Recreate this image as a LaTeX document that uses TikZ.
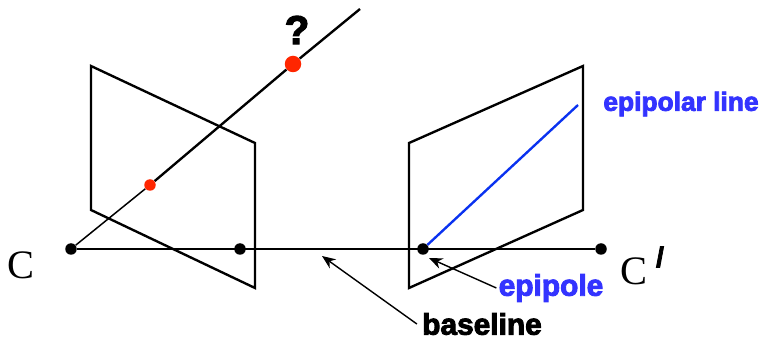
\documentclass[tikz,border=0pt]{standalone}
\usepackage{fontspec}
\setmainfont{Liberation Serif}
\setsansfont[BoldFeatures={FakeBold=3}]{Liberation Sans}
\usetikzlibrary{arrows.meta}
\definecolor{ptRed}{RGB}{255,38,0}
\definecolor{lineBlue}{RGB}{10,50,240}
\definecolor{lblBlue}{RGB}{51,51,255}

\begin{document}
\begin{tikzpicture}[
  x=0.02cm, y=-0.02cm,
  plane/.style   ={draw=black, line width=1.35pt, line join=miter},
  thinray/.style ={draw=black, line width=.85pt},
  base/.style    ={draw=black, line width=.95pt},
  dot/.style     ={circle, fill=black, inner sep=0pt, minimum size=.23cm},
  bigred/.style  ={circle, fill=ptRed, inner sep=0pt, minimum size=.33cm},
  smallred/.style={circle, fill=ptRed, inner sep=0pt, minimum size=.23cm},
  lbl/.style     ={font=\sffamily\bfseries\fontsize{17}{18}\selectfont, inner sep=0pt},
  cam/.style     ={font=\rmfamily\fontsize{23}{25}\selectfont, inner sep=0pt},
  flow/.style    ={-{Stealth[length=.27cm,width=.22cm]}, line width=.8pt, draw=black},
]
\useasboundingbox (0,0) rectangle (761,337);

% image planes
\draw[plane] (91,66) -- (255,143) -- (255,288) -- (91,210) -- cycle;
\draw[plane] (409,143) -- (583,66) -- (583,210) -- (409,288) -- cycle;

% centres and points
\node[dot] (camL) at (71,249) {};
\node[dot] (epiL) at (240,249) {};
\node[dot] (epiR) at (423,249) {};
\node[dot] (camR) at (601,249) {};
\node[smallred] (imgpt) at (150,185) {};
\node[bigred] (world) at (293,64) {};
\coordinate (rayend) at (360,9);
\coordinate (epiend) at (578,105);
\coordinate (basetip) at (322,256);
\coordinate (epitip) at (429,258);

% rays
\draw[base] (camL) -- (camR);
\draw[thinray] (camL) -- (imgpt);
\draw[plane] (imgpt) -- (world);
\draw[plane] (world) -- (rayend);
\draw[draw=lineBlue, line width=1.35pt] (epiR) -- (epiend);

% labels
\node[cam] (lblC) at (21,265) {C};
\node[cam] (lblCp) at (634,271) {C};
\node[lbl, font=\sffamily\bfseries\fontsize{16}{18}\selectfont] (lblprime) at (660,257) {/};
\node[lbl, font=\sffamily\bfseries\fontsize{23}{25}\selectfont] (lblq) at (297,30) {?};
\node[lbl, text=lblBlue] (lblepi) at (551,288) {epipole};
\node[lbl, text=lblBlue, font=\sffamily\bfseries\fontsize{15}{18}\selectfont] (lblline) at (681,104) {epipolar line};
\node[lbl] (lblbase) at (482,324) {baseline};

% arrows
\draw[flow] ([xshift=-.1cm]lblbase.west) -- (basetip);
\draw[flow] ([xshift=-.04cm]lblepi.west) -- (epitip);
\end{tikzpicture}
\end{document}
